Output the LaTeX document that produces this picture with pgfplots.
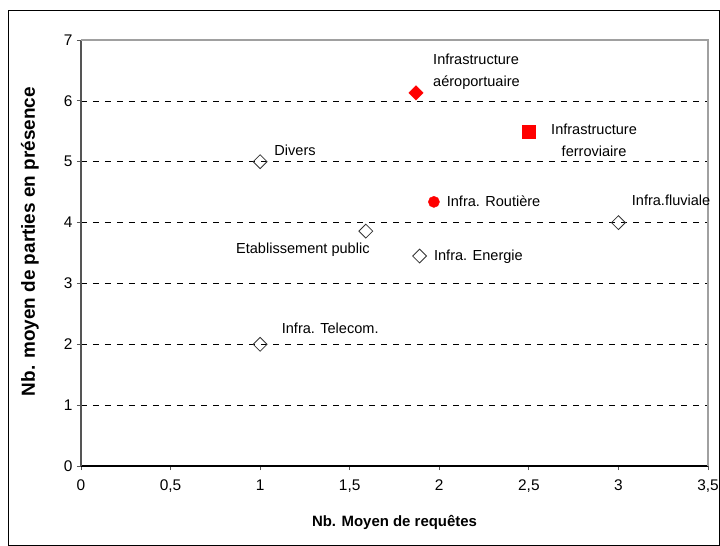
\documentclass[border=0pt]{standalone}
\usepackage{pgfplots}
\pgfplotsset{compat=1.18}
\usepackage{fontspec}
\setmainfont{Liberation Sans}
\definecolor{axgray}{HTML}{555555}
\definecolor{boxgray}{HTML}{A0A0A0}
\begin{document}
\begin{tikzpicture}
\useasboundingbox (-81bp,-80bp) rectangle (639bp,466bp);
\begin{axis}[
  at={(0,0)}, anchor=south west,
  scale only axis, width=627bp, height=426bp,
  xmin=0, xmax=3.5, ymin=0, ymax=7,
  xtick={0,0.5,...,3.5}, ytick={0,1,...,7},
  axis x line*=bottom, axis y line*=left,
  axis line style={draw=axgray, line width=1.2bp, -},
  x axis line style={draw=black},
  tick align=outside, major tick length=4bp,
  tick style={draw=axgray, line width=0.8bp},
  ymajorgrids,
  grid style={draw=black, line width=0.6bp, dash pattern=on 6bp off 6bp},
  /pgf/number format/assume math mode=true,
  /pgf/number format/use comma,
  ticklabel style={font=\fontsize{15.5}{18}\selectfont},
  xticklabel style={yshift=-6bp},
  yticklabel style={xshift=-1bp},
  clip=false,
]
\draw[boxgray, line width=1.2bp] (rel axis cs:0,1) -- (rel axis cs:1,1) -- (rel axis cs:1,0);
\addplot[only marks, mark=square, mark size=4.9bp,
  mark options={rotate=45, draw=black!80, fill=white, line width=0.8bp}]
  coordinates {(1,5) (1,2) (1.59,3.86) (1.89,3.45) (3,4)};
\addplot[only marks, mark=square*, mark size=5.1bp,
  mark options={rotate=45, draw=red, fill=red}]
  coordinates {(1.87,6.13)};
\addplot[only marks, mark=square*, mark size=6.2bp,
  mark options={draw=red, fill=red}]
  coordinates {(2.50,5.49)};
\addplot[only marks, mark=*, mark size=5.6bp,
  mark options={draw=red, fill=red}]
  coordinates {(1.97,4.34)};
\begin{scope}[every node/.style={font=\fontsize{14.6}{22}\selectfont, inner sep=0pt}]
\node[anchor=west, align=left] at (axis cs:1.965,6.474) {Infrastructure\\aéroportuaire};
\node[align=center] at (axis cs:2.864,5.357) {Infrastructure\\ferroviaire};
\node[anchor=west] at (axis cs:1.079,5.181) {Divers};
\node[anchor=west] at (axis cs:2.041,4.343) {Infra. Routière};
\node[anchor=west] at (axis cs:3.074,4.36) {Infra.fluviale};
\node[anchor=west] at (axis cs:0.865,3.56) {Etablissement public};
\node[anchor=west] at (axis cs:1.970,3.44) {Infra. Energie};
\node[anchor=west] at (axis cs:1.120,2.263) {Infra. Telecom.};
\end{scope}
\node[font=\fontsize{15}{18}\selectfont\bfseries] at ([yshift=-56bp]axis cs:1.75,0) {Nb. Moyen de requêtes};
\node[rotate=90, font=\fontsize{19}{21}\selectfont\bfseries] at ([xshift=-51bp]axis cs:0,3.686) {Nb. moyen de parties en présence};
\end{axis}
\draw[black, line width=1bp] (-72bp,-79bp) rectangle (638bp,455bp);
\end{tikzpicture}
\end{document}
